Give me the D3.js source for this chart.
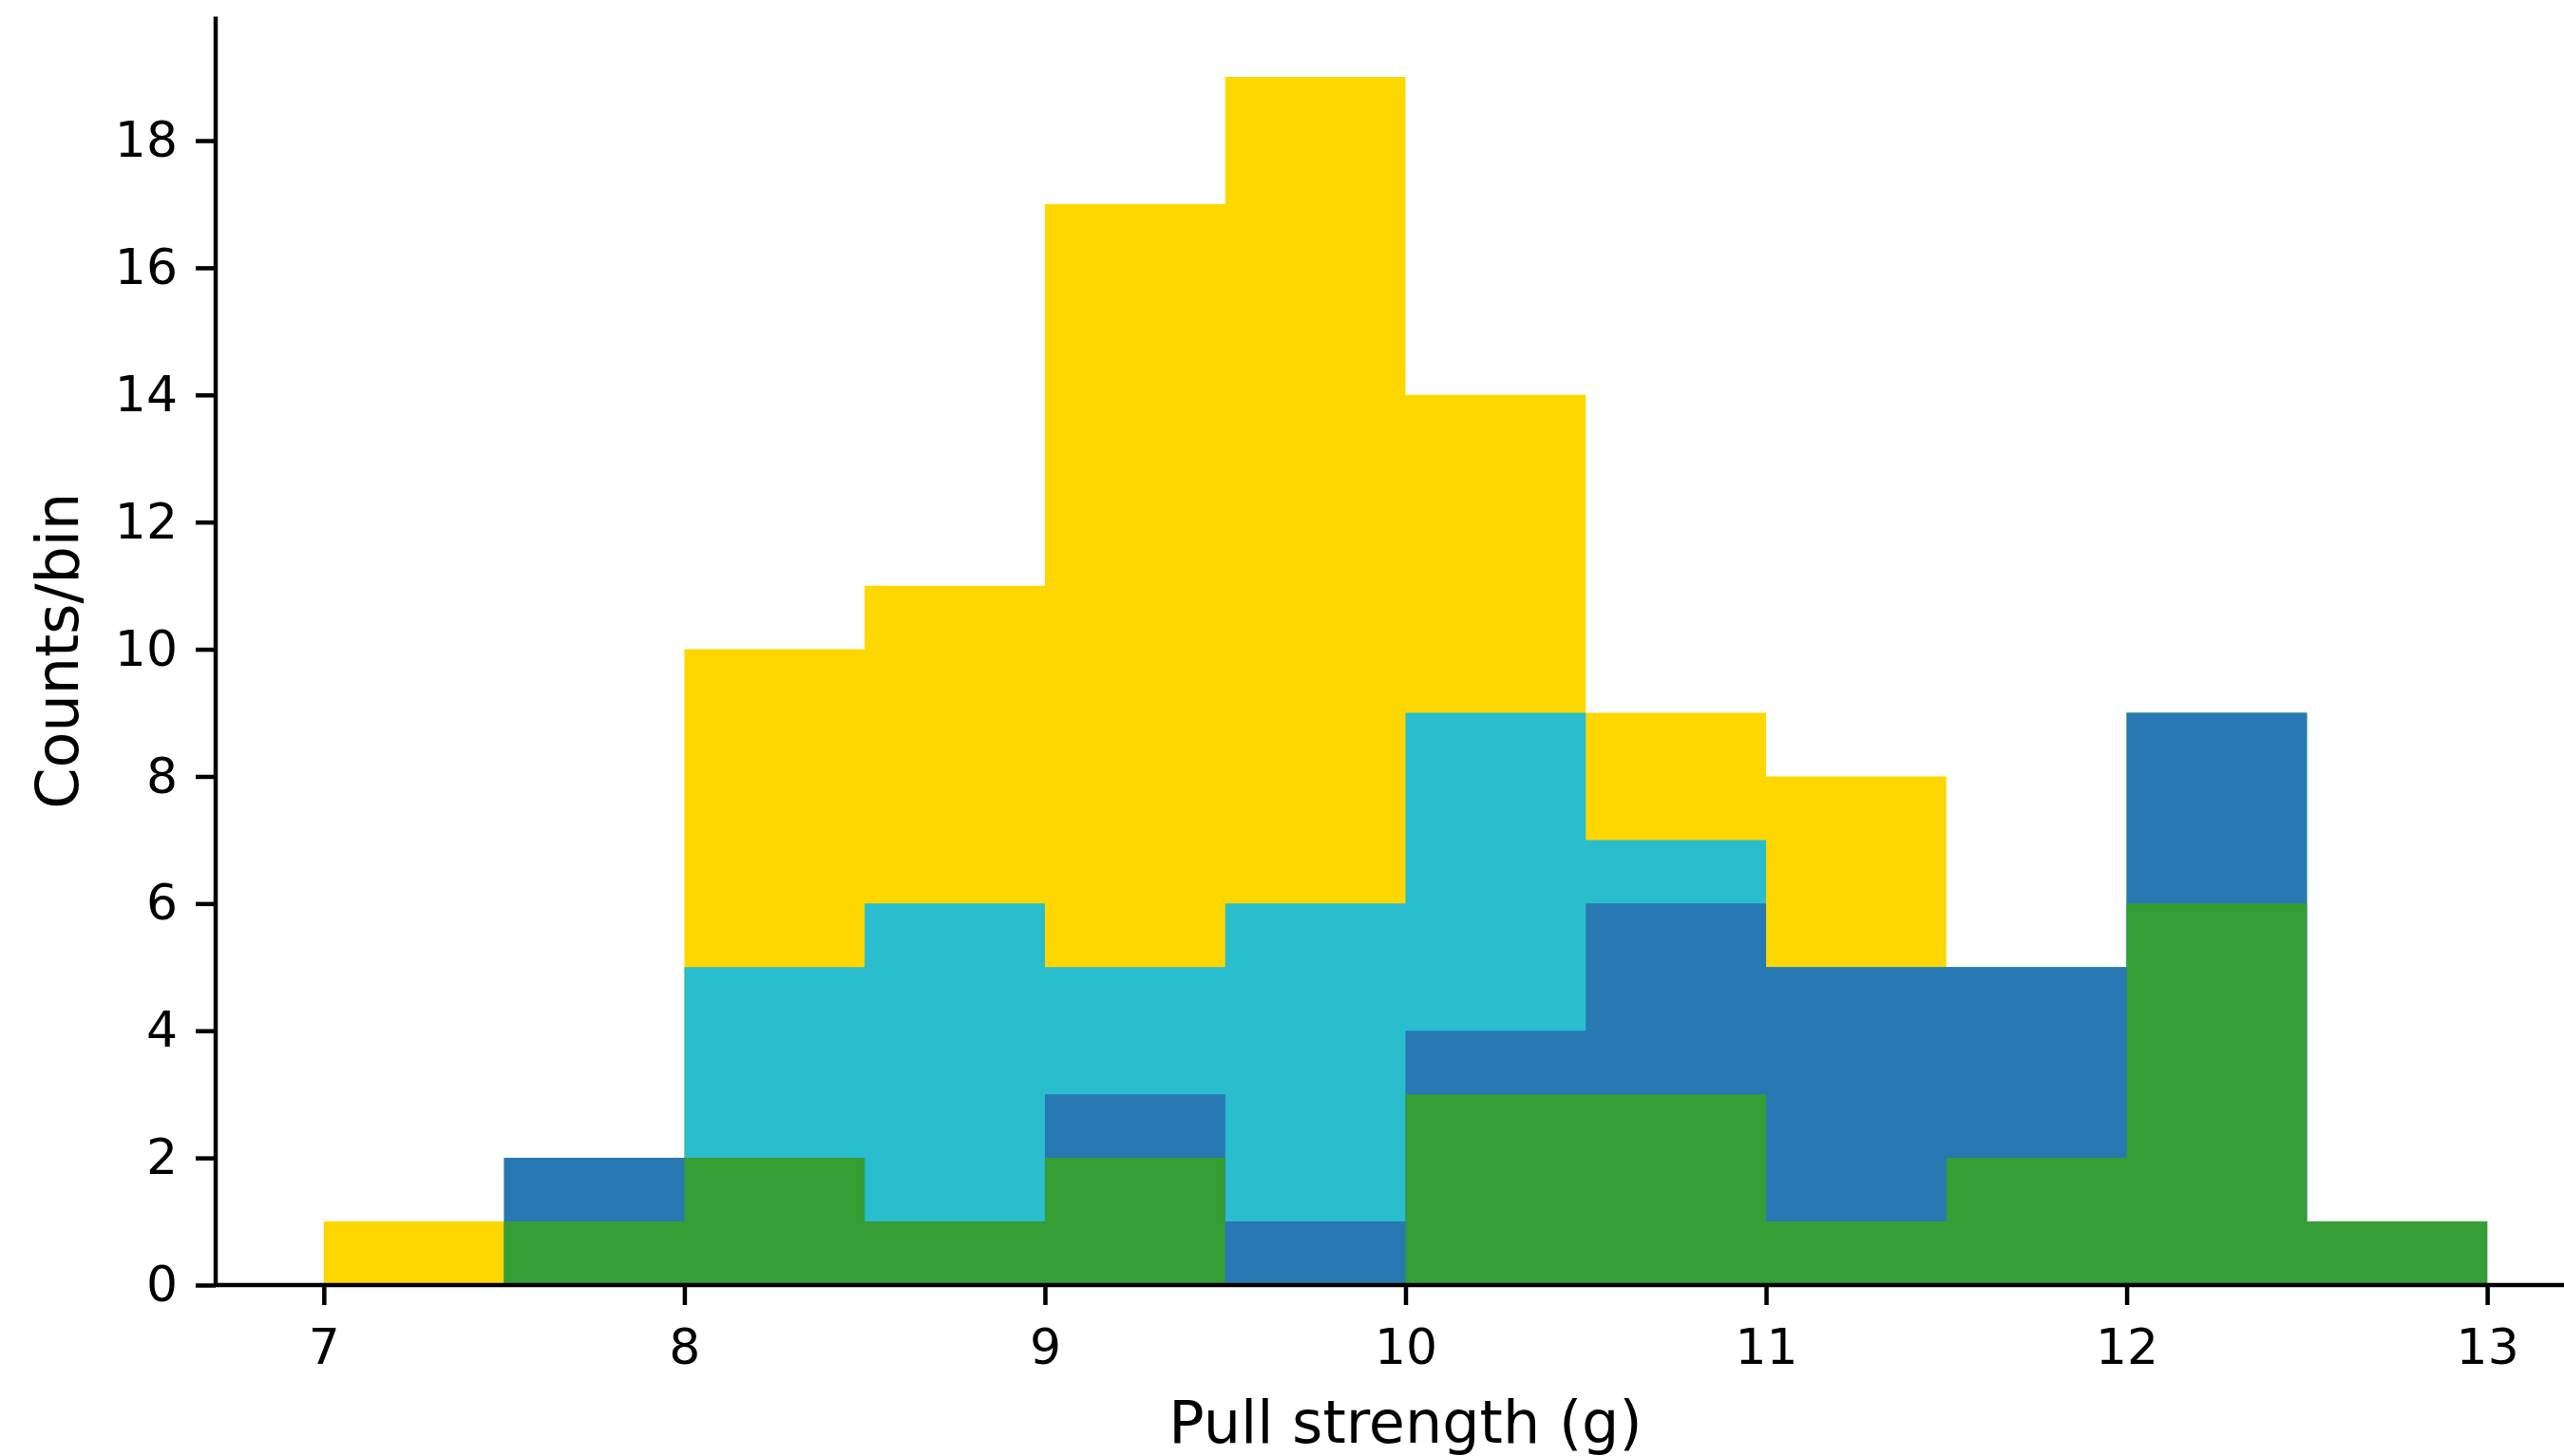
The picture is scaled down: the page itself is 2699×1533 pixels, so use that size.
<!DOCTYPE html>
<html>
<head>
<meta charset="utf-8">
<script src="https://cdn.jsdelivr.net/npm/d3@7"></script>
<style>
  body { margin: 0; background: #fff; }
  svg { display: block; }
</style>
</head>
<body>
<div id="container"></div>
<script>
let w = 2699;
let h = 1533;

// histogram bins, left edges (width 0.5)
let binStarts = [7, 7.5, 8, 8.5, 9, 9.5, 10, 10.5, 11, 11.5, 12, 12.5];
let binWidth = 0.5;

// counts per bin, per group (stacked bottom -> top)
let greenCounts  = [0, 1, 2, 1, 2, 0, 3, 3, 1, 2, 6, 1];
let blueCounts   = [0, 1, 0, 0, 1, 1, 1, 3, 4, 3, 3, 0];
let cyanCounts   = [0, 0, 3, 5, 2, 5, 5, 1, 0, 0, 0, 0];
let yellowCounts = [1, 0, 5, 5, 12, 13, 5, 2, 3, 0, 0, 0];

let groups = ["green", "blue", "cyan", "yellow"];
let colors = { green: "#359e35", blue: "#2778b3", cyan: "#29bdcd", yellow: "#ffd700" };

let xTicks = [7, 8, 9, 10, 11, 12, 13];
let yTicks = [0, 2, 4, 6, 8, 10, 12, 14, 16, 18];

let rows = binStarts.map((b, i) => ({
  x: b,
  green: greenCounts[i],
  blue: blueCounts[i],
  cyan: cyanCounts[i],
  yellow: yellowCounts[i]
}));

let stacked = d3.stack().keys(groups)(rows);

let viz = d3.select("#container")
  .append("svg")
  .attr("width", w)
  .attr("height", h)
  .style("font-family", "DejaVu Sans, sans-serif");

let xScale = d3.scaleLinear().domain([6.7, 13.3]).range([227, 2732]);
let yScale = d3.scaleLinear().domain([0, 19.95]).range([1353, 17.5]);

// step area from 0 up to the cumulative top of each layer
let area = d3.area()
  .curve(d3.curveStepAfter)
  .x(d => xScale(d.x))
  .y0(yScale(0))
  .y1(d => yScale(d.top));

// draw the tallest (cumulative) layer first, like overlapping stepfilled hists
stacked.slice().reverse().forEach(layer => {
  let pts = layer.map(d => ({ x: d.data.x, top: d[1] }));
  let last = pts[pts.length - 1];
  pts.push({ x: last.x + binWidth, top: last.top });
  viz.append("path")
    .datum(pts)
    .attr("fill", colors[layer.key])
    .attr("stroke", "none")
    .attr("d", area);
});

// axes
let xAxis = d3.axisBottom(xScale).tickValues(xTicks).tickFormat(d3.format("d"))
  .tickSize(21).tickPadding(25);
let yAxis = d3.axisLeft(yScale).tickValues(yTicks).tickFormat(d3.format("d"))
  .tickSize(21).tickPadding(19);

let xg = viz.append("g")
  .attr("transform", "translate(0," + yScale(0) + ")")
  .call(xAxis);
let yg = viz.append("g")
  .attr("transform", "translate(" + xScale(6.7) + ",0)")
  .call(yAxis);

[xg, yg].forEach(g => {
  g.select(".domain").attr("stroke", "#000").attr("stroke-width", 4.5);
  g.selectAll(".tick line").attr("stroke", "#000").attr("stroke-width", 4.5);
  g.selectAll(".tick text")
    .attr("fill", "#000")
    .style("font-size", "52px")
    .style("font-family", "DejaVu Sans, sans-serif");
});
// matplotlib-style spines: no end ticks on the domain path
xg.select(".domain").attr("d", "M" + xScale(6.7) + ",0H" + xScale(13.3));
yg.select(".domain").attr("d", "M0," + yScale(0) + "V" + yScale(19.95));

viz.append("text")
  .attr("x", (xScale(6.7) + xScale(13.3)) / 2)
  .attr("y", 1519)
  .attr("text-anchor", "middle")
  .style("font-size", "62px")
  .text("Pull strength (g)");

viz.append("text")
  .attr("transform", "translate(82," + (yScale(0) + yScale(19.95)) / 2 + ") rotate(-90)")
  .attr("text-anchor", "middle")
  .style("font-size", "62px")
  .text("Counts/bin");
</script>
</body>
</html>
